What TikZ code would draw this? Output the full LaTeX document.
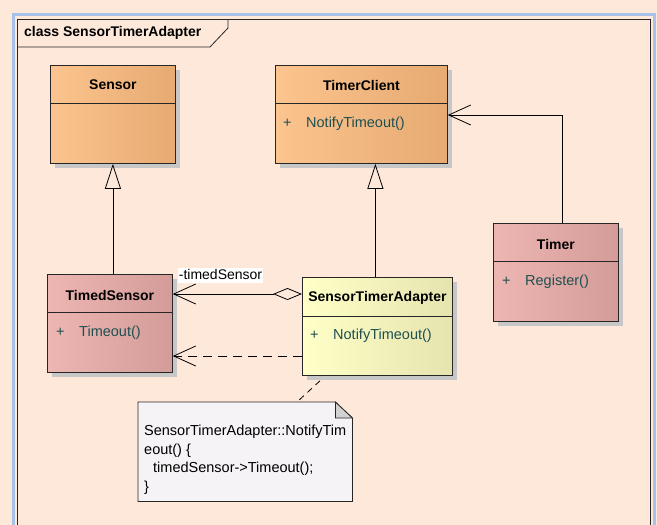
\documentclass[tikz,border=0pt]{standalone}
\usepackage{fontspec}
\setmainfont{Liberation Sans}
\usetikzlibrary{arrows.meta,calc,shadows}
\definecolor{bg}{HTML}{FDE8DA}
\definecolor{frameblue}{HTML}{A7C1EA}
\definecolor{orL}{HTML}{FCC48E}
\definecolor{orM}{HTML}{FFCA96}
\definecolor{orR}{HTML}{E6AA72}
\definecolor{pkL}{HTML}{EDB6B2}
\definecolor{pkM}{HTML}{EBB3AF}
\definecolor{pkR}{HTML}{D39C98}
\definecolor{ylL}{HTML}{FFFFC8}
\definecolor{ylM}{HTML}{FFFFC6}
\definecolor{ylR}{HTML}{E6E4AE}
\definecolor{notefill}{HTML}{F6F3F6}
\definecolor{foldgray}{HTML}{D2D2D2}
\definecolor{methcol}{HTML}{1E5050}
\begin{document}
\begin{tikzpicture}[x=1pt,y=-1pt,
  cls/.style={draw=black!85, line width=0.8pt, inner sep=0pt, anchor=north west,
    minimum height=98pt,
    drop shadow={shadow xshift=5pt, shadow yshift=-5pt, fill=black!22, opacity=1}},
  orangecls/.style={cls, left color=orL, middle color=orM, right color=orR},
  pinkcls/.style={cls, left color=pkL, middle color=pkM, right color=pkR},
  yellowcls/.style={cls, left color=ylL, middle color=ylM, right color=ylR},
  ctitle/.style={font=\fontsize{14}{16}\selectfont\bfseries, inner sep=0pt},
  cmeth/.style={font=\fontsize{14.5}{17}\selectfont, text=methcol, inner sep=0pt, anchor=west},
  divider/.style={draw=black!85, line width=0.8pt},
  gen/.style={line width=0.8pt, -{Triangle[length=25pt,width=16pt,fill=bg]}},
  assoc/.style={line width=0.8pt, -{Straight Barb[length=22pt,width=20pt]}},
  depend/.style={assoc, dash pattern=on 9pt off 6pt},
  notelink/.style={line width=0.8pt, dash pattern=on 6pt off 5pt}
]
\useasboundingbox (0,0) rectangle (657,525);
\fill[bg] (0,0) rectangle (657,525);
% outer frames
\draw[frameblue, line width=3pt] (13,14.5) rectangle (654.5,540);
\draw[black!85, line width=0.8pt] (17.5,19.5) rectangle (650,540);
\node[anchor=west, inner sep=0pt, font=\fontsize{14}{16}\selectfont\bfseries] (frametitle) at (24,33) {class SensorTimerAdapter};
\draw[black!85, line width=0.8pt] (17.5,47) -- (210,47) -- (228,28) -- (228,19.5);

% classes
\node[orangecls, minimum width=125pt] (sensor) at (50,65) {};
\draw[divider] ($(sensor.north west)+(0,38)$) -- ($(sensor.north east)+(0,38)$);
\node[ctitle] (sensorT) at ($(sensor.north)+(0,20)$) {Sensor};

\node[orangecls, minimum width=172pt] (timerclient) at (275,65) {};
\draw[divider] ($(timerclient.north west)+(0,38)$) -- ($(timerclient.north east)+(0,38)$);
\node[ctitle] (timerclientT) at ($(timerclient.north)+(0,20)$) {TimerClient};
\node[cmeth] (timerclientM) at ($(timerclient.north west)+(8,59)$) {\makebox[23pt][l]{+}NotifyTimeout()};

\node[pinkcls, minimum width=125pt] (timedsensor) at (47,274) {};
\draw[divider] ($(timedsensor.north west)+(0,38)$) -- ($(timedsensor.north east)+(0,38)$);
\node[ctitle] (timedsensorT) at ($(timedsensor.north)+(0,21)$) {TimedSensor};
\node[cmeth] (timedsensorM) at ($(timedsensor.north west)+(9,59)$) {\makebox[23pt][l]{+}Timeout()};

\node[yellowcls, minimum width=150pt] (adapter) at (302,277) {};
\draw[divider] ($(adapter.north west)+(0,39)$) -- ($(adapter.north east)+(0,39)$);
\node[ctitle] (adapterT) at ($(adapter.north)+(0,21)$) {SensorTimerAdapter};
\node[cmeth] (adapterM) at ($(adapter.north west)+(8,59)$) {\makebox[23pt][l]{+}NotifyTimeout()};

\node[pinkcls, minimum width=125pt] (timer) at (493,223) {};
\draw[divider] ($(timer.north west)+(0,38)$) -- ($(timer.north east)+(0,38)$);
\node[ctitle] (timerT) at ($(timer.north)+(0,21)$) {Timer};
\node[cmeth] (timerM) at ($(timer.north west)+(9,59)$) {\makebox[23pt][l]{+}Register()};

% note
\node[inner sep=0pt, minimum width=214pt, minimum height=99pt, anchor=north west] (note) at (138,402) {};
\draw[black!85, line width=0.8pt, fill=notefill] (note.north west) -- ($(note.north east)+(-17,0)$) -- ($(note.north east)+(0,16)$) -- (note.south east) -- (note.south west) -- cycle;
\draw[black!85, line width=0.8pt, fill=foldgray] ($(note.north east)+(-17,0)$) -- ($(note.north east)+(0,16)$) -- ($(note.north east)+(-17,16)$) -- cycle;
\node[anchor=north west, inner sep=0pt, align=left, font=\fontsize{14.5}{18.6}\selectfont] (notetext) at ($(note.north west)+(6,23)$)
  {SensorTimerAdapter::NotifyTim\\eout() \{\\\hspace*{9pt}timedSensor->Timeout();\\\}};

% connectors
\coordinate (tsTop) at (timedsensor.north -| sensor.south);
\draw[gen] (tsTop) -- (sensor.south);
\coordinate (adTop) at ($(adapter.north)+(-2,0)$);
\draw[gen] (adTop) -- (adTop |- timerclient.south);
\coordinate (tmTop) at ($(timer.north)+(6.5,0)$);
\coordinate (tcIn) at ($(timerclient.north east)+(0,50)$);
\draw[assoc] (tmTop) |- (tcIn);
\coordinate (aggStart) at ($(adapter.north west)+(0,17)$);
\draw[line width=0.8pt, {Diamond[length=29pt,width=12pt,fill=bg]}-{Straight Barb[length=22pt,width=20pt]}]
  (aggStart) -- (aggStart -| timedsensor.east);
\node[fill=white, inner xsep=0.5pt, inner ysep=0pt, text height=11pt, text depth=3.5pt, font=\fontsize{14}{16}\selectfont] (rolelabel) at (220.5,275.5) {-timedSensor};
\coordinate (depStart) at ($(adapter.north west)+(0,79)$);
\draw[depend] (depStart) -- (depStart -| timedsensor.east);
\coordinate (linkStart) at ($(adapter.south west)+(18,5)$);
\coordinate (linkEnd) at ($(note.north west)+(159,0)$);
\draw[notelink] (linkStart) -- (linkEnd);
\end{tikzpicture}
\end{document}
